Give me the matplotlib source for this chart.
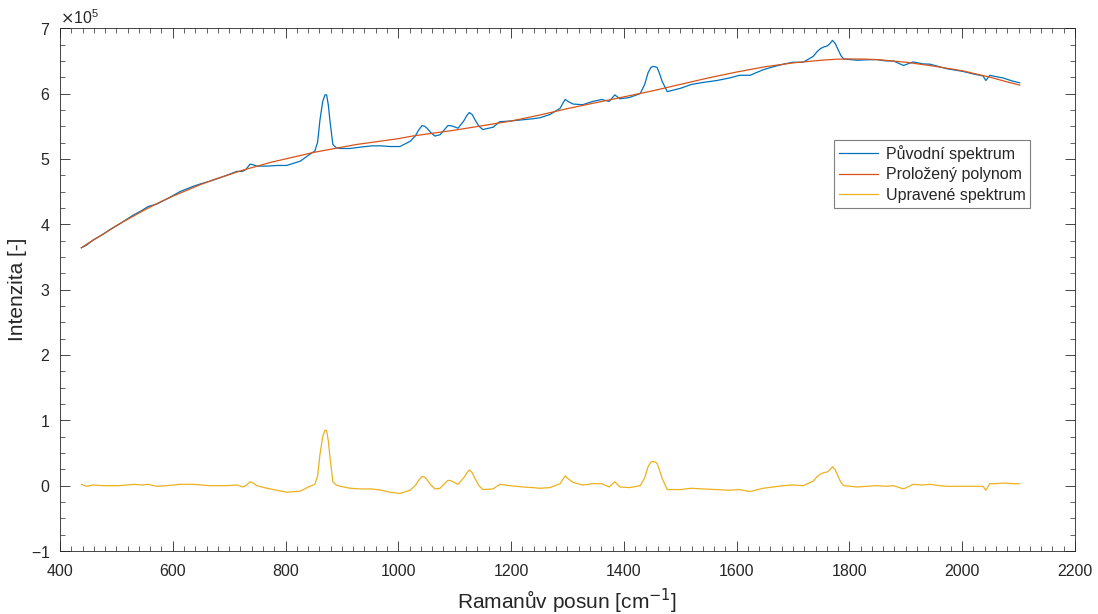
import matplotlib
matplotlib.use('Agg')
from matplotlib import pyplot as plt
from matplotlib.ticker import MultipleLocator
import numpy as np

plt.rcParams['font.family'] = ['Liberation Sans', 'DejaVu Sans']
plt.rcParams['axes.unicode_minus'] = False

# Ramanův posun [cm^-1] pro původní a upravené spektrum
posun = [438, 447, 459, 475, 489, 505, 519, 530, 545, 556, 572, 590, 613, 636, 650, 666, 680, 696,
         714, 724, 730, 737, 743, 749, 767, 785, 802, 826, 843, 852, 857, 861, 866, 870, 873, 876,
         879, 884, 890, 897, 915, 932, 953, 970, 985, 1003, 1021, 1030, 1036, 1042, 1047, 1051,
         1058, 1065, 1074, 1082, 1088, 1092, 1097, 1106, 1116, 1122, 1126, 1131, 1136, 1143, 1150,
         1168, 1180, 1198, 1221, 1239, 1251, 1269, 1287, 1292, 1296, 1302, 1310, 1327, 1345, 1361,
         1374, 1384, 1393, 1410, 1429, 1437, 1443, 1448, 1452, 1456, 1459, 1464, 1468, 1477, 1500,
         1520, 1540, 1565, 1588, 1605, 1624, 1647, 1665, 1683, 1700, 1718, 1736, 1743, 1749, 1755,
         1761, 1766, 1770, 1775, 1779, 1785, 1790, 1814, 1830, 1849, 1865, 1878, 1896, 1913, 1930,
         1943, 1960, 1973, 1990, 2001, 2020, 2037, 2042, 2049, 2060, 2072, 2090, 2102]

# původní spektrum (x 1e5)
puvodni = [3.64, 3.68, 3.76, 3.84, 3.92, 4.00, 4.08, 4.14, 4.21, 4.27, 4.31, 4.39, 4.50, 4.58, 4.62,
           4.66, 4.70, 4.75, 4.81, 4.81, 4.84, 4.92, 4.91, 4.89, 4.89, 4.90, 4.90, 4.965, 5.07, 5.12,
           5.26, 5.59, 5.88, 5.98, 5.98, 5.82, 5.57, 5.22, 5.17, 5.16, 5.16, 5.18, 5.20, 5.20, 5.19,
           5.19, 5.27, 5.35, 5.44, 5.51, 5.50, 5.47, 5.40, 5.35, 5.37, 5.45, 5.51, 5.51, 5.50, 5.47,
           5.58, 5.67, 5.71, 5.68, 5.60, 5.50, 5.45, 5.485, 5.57, 5.58, 5.60, 5.615, 5.63, 5.68,
           5.775, 5.855, 5.91, 5.875, 5.84, 5.83, 5.88, 5.91, 5.88, 5.98, 5.92, 5.94, 6.00, 6.14,
           6.32, 6.40, 6.415, 6.41, 6.40, 6.29, 6.185, 6.03, 6.08, 6.14, 6.17, 6.20, 6.24, 6.28,
           6.28, 6.365, 6.41, 6.45, 6.48, 6.48, 6.57, 6.645, 6.69, 6.715, 6.73, 6.77, 6.815, 6.765,
           6.69, 6.58, 6.53, 6.51, 6.517, 6.52, 6.50, 6.50, 6.43, 6.485, 6.455, 6.45, 6.41, 6.38,
           6.355, 6.34, 6.30, 6.27, 6.20, 6.28, 6.26, 6.24, 6.19, 6.165]

# upravené spektrum (x 1e5)
upravene = [0.02, -0.01, 0.01, 0.00, 0.00, 0.00, 0.01, 0.02, 0.01, 0.02, -0.01, 0.00, 0.02, 0.02,
            0.01, 0.00, 0.00, 0.00, 0.01, -0.02, 0.00, 0.06, 0.04, 0.00, -0.04, -0.07, -0.10, -0.085,
            -0.01, 0.02, 0.15, 0.47, 0.75, 0.85, 0.84, 0.68, 0.42, 0.06, 0.01, -0.01, -0.04, -0.05,
            -0.05, -0.07, -0.10, -0.12, -0.07, 0.00, 0.08, 0.14, 0.13, 0.09, 0.01, -0.05, -0.04, 0.03,
            0.08, 0.08, 0.06, 0.02, 0.12, 0.20, 0.24, 0.20, 0.11, 0.00, -0.06, -0.05, 0.02, 0.00,
            -0.02, -0.03, -0.04, -0.03, 0.03, 0.10, 0.15, 0.10, 0.05, 0.01, 0.03, 0.03, -0.02, 0.06,
            -0.02, -0.03, 0.00, 0.12, 0.29, 0.36, 0.37, 0.36, 0.34, 0.22, 0.11, -0.06, -0.06, -0.04,
            -0.05, -0.06, -0.07, -0.06, -0.09, -0.04, -0.02, 0.00, 0.01, 0.00, 0.07, 0.14, 0.18, 0.20,
            0.21, 0.25, 0.29, 0.24, 0.16, 0.05, 0.00, -0.02, -0.01, 0.00, -0.01, 0.00, -0.05, 0.02,
            0.01, 0.02, 0.00, -0.01, -0.01, -0.01, -0.01, -0.01, -0.07, 0.03, 0.03, 0.04, 0.03, 0.03]

# proložený polynom
posun_poly = [438, 450, 475, 500, 525, 550, 575, 600, 625, 650, 675, 700, 725, 750, 775, 800, 825,
              850, 875, 900, 925, 950, 975, 1000, 1025, 1050, 1075, 1100, 1125, 1150, 1175, 1200,
              1225, 1250, 1275, 1300, 1325, 1350, 1375, 1400, 1425, 1450, 1475, 1500, 1525, 1550,
              1575, 1600, 1625, 1650, 1675, 1700, 1725, 1750, 1775, 1800, 1825, 1850, 1875, 1900,
              1925, 1950, 1975, 2000, 2025, 2050, 2075, 2102]
polynom = [3.64, 3.71, 3.84, 3.98, 4.10, 4.22, 4.33, 4.43, 4.52, 4.61, 4.69, 4.76, 4.83, 4.89, 4.95,
           5.00, 5.05, 5.10, 5.14, 5.18, 5.22, 5.25, 5.28, 5.31, 5.35, 5.38, 5.41, 5.44, 5.475, 5.51,
           5.545, 5.58, 5.625, 5.67, 5.72, 5.77, 5.815, 5.86, 5.905, 5.95, 5.995, 6.04, 6.09, 6.14,
           6.19, 6.24, 6.285, 6.33, 6.37, 6.41, 6.44, 6.47, 6.49, 6.51, 6.525, 6.53, 6.528, 6.52,
           6.50, 6.48, 6.45, 6.42, 6.385, 6.35, 6.30, 6.25, 6.19, 6.13]

fig = plt.figure(figsize=(10.98, 6.14), dpi=100)
ax = fig.add_axes([0.0546, 0.1026, 0.9244, 0.8514])

ax.plot(posun, np.array(puvodni) * 1e5, color='#0072BD', lw=0.9, label='Původní spektrum')
ax.plot(posun_poly, np.array(polynom) * 1e5, color='#D95319', lw=0.9, label='Proložený polynom')
ax.plot(posun, np.array(upravene) * 1e5, color='#EDB120', lw=0.9, label='Upravené spektrum')

ax.set_xlim(400, 2200)
ax.set_ylim(-1e5, 7e5)
ax.xaxis.set_major_locator(MultipleLocator(200))
ax.xaxis.set_minor_locator(MultipleLocator(20))
ax.yaxis.set_major_locator(MultipleLocator(1e5))
ax.yaxis.set_minor_locator(MultipleLocator(0.25e5))
ax.ticklabel_format(axis='y', style='sci', scilimits=(0, 0), useMathText=True)

txt = '#262626'
ax.tick_params(which='both', direction='in', top=True, right=True, colors=txt, labelsize=11.5)
ax.tick_params(which='major', length=7, width=0.6)
ax.tick_params(which='minor', length=3.5, width=0.5)
ax.tick_params(axis='x', which='major', pad=9)
ax.tick_params(axis='y', which='major', pad=7)
for s in ax.spines.values():
    s.set_color(txt)
    s.set_linewidth(0.6)
ax.yaxis.get_offset_text().set_fontsize(11.5)
ax.yaxis.get_offset_text().set_color(txt)

ax.set_xlabel('Ramanův posun [cm$^{\\mathrm{-}1}$]', fontsize=15, color=txt, labelpad=6)
ax.set_ylabel('Intenzita [-]', fontsize=15, color=txt, labelpad=3)

leg = ax.legend(loc='upper left', bbox_to_anchor=(0.763, 0.786), fontsize=11.5, frameon=True,
                fancybox=False, framealpha=1, edgecolor='#7f7f7f', handlelength=2.4,
                labelspacing=0.35, borderpad=0.3, handletextpad=0.5, borderaxespad=0)
leg.get_frame().set_linewidth(0.8)
for t in leg.get_texts():
    t.set_color(txt)

plt.savefig('out.png', dpi=100)
